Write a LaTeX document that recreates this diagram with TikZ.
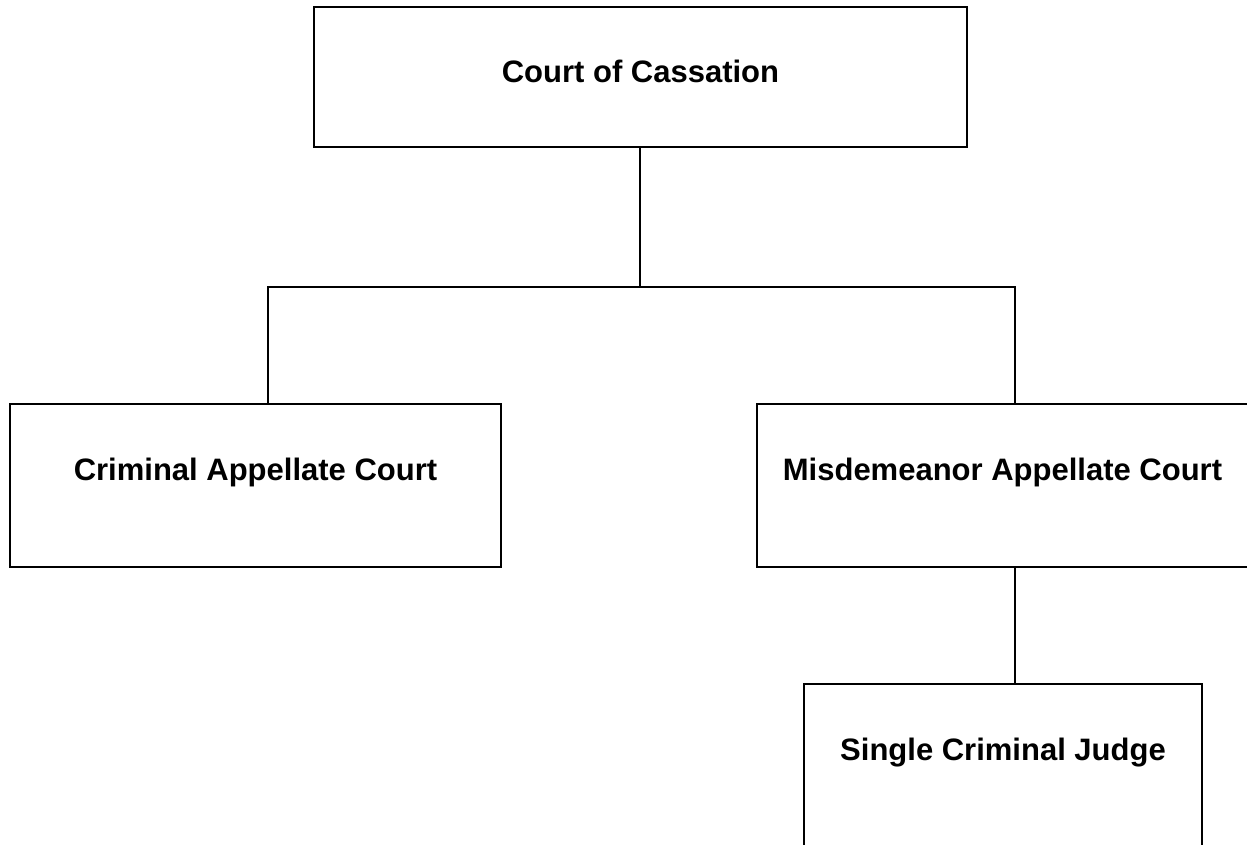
\documentclass[tikz,border=0pt]{standalone}
\usepackage{fontspec}
\setmainfont{Liberation Sans}
\begin{document}
\begin{tikzpicture}[x=1pt,y=-1pt,
  box/.style={draw=black,line width=1.5pt,rectangle,inner sep=0pt,outer sep=0pt},
  lbl/.style={font=\fontsize{31}{37}\selectfont\bfseries,inner sep=0pt,anchor=base},
  conn/.style={draw=black,line width=1.5pt}]
\useasboundingbox (0,0) rectangle (1247,845);
\fill[white] (0,0) rectangle (1247,845);
\clip (0,0) rectangle (1247,845);
\node[box,minimum width=653pt,minimum height=140pt] (c1) at (640.5,77) {};
\node[box,minimum width=491pt,minimum height=163pt] (c2) at (255.5,485.5) {};
\node[box,minimum width=491pt,minimum height=163pt] (c3) at (1002.5,485.5) {};
\node[box,minimum width=398pt,minimum height=163pt] (c4) at (1003,765.5) {};
\node[lbl] (t1) at ([yshift=-76pt]c1.north) {Court of Cassation};
\node[lbl] (t2) at ([yshift=-76pt]c2.north) {Criminal Appellate Court};
\node[lbl] (t3) at ([yshift=-76pt]c3.north) {Misdemeanor Appellate Court};
\node[lbl] (t4) at ([yshift=-76pt]c4.north) {Single Criminal Judge};
\coordinate (j) at (640,287);
\draw[conn] (c1.south -| j) -- (j);
\draw[conn] ([xshift=12.5pt]c2.north) |- (j) -| ([xshift=12.5pt]c3.north);
\draw[conn] ([xshift=12.5pt]c3.south) -- ([xshift=12.5pt]c3.south |- c4.north);
\end{tikzpicture}
\end{document}
